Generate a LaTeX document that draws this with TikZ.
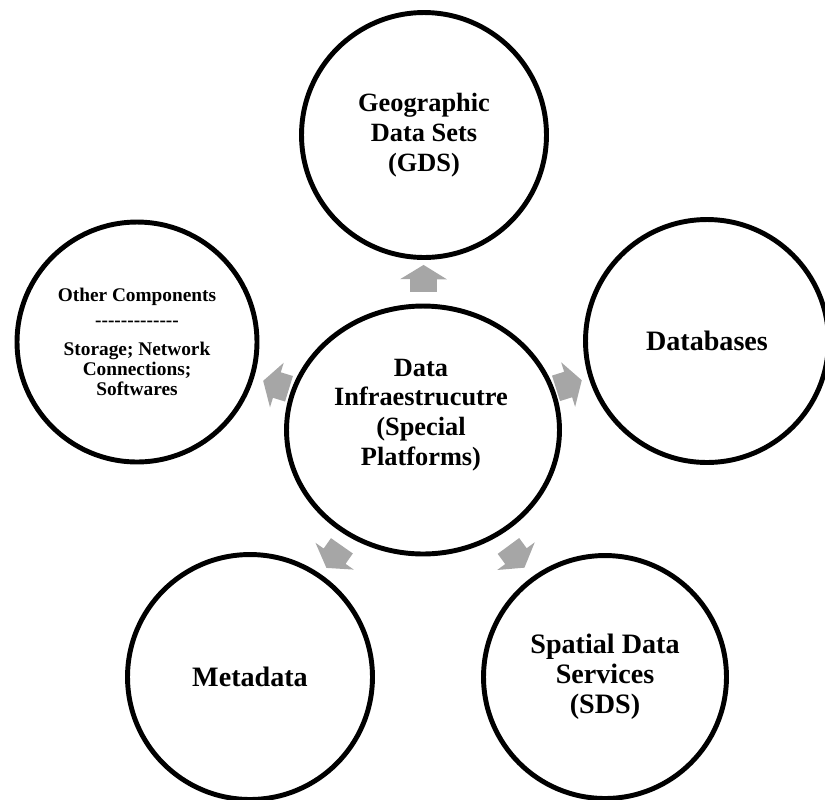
\documentclass[tikz,border=0pt]{standalone}
\usepackage{fontspec}
\setmainfont{Liberation Serif}
\usetikzlibrary{shapes.geometric,shapes.arrows}
\definecolor{arrowgray}{HTML}{A6A6A6}

\begin{document}
\begin{tikzpicture}[
    x=0.02cm, y=-0.02cm,
    font=\bfseries\fontsize{15}{17}\selectfont,
    part/.style = {shape=circle, draw=black, line width=2.8pt, align=center, inner sep=0pt, minimum size=4.9cm},
    hub/.style = {shape=ellipse, draw=black, line width=2.8pt, inner sep=0pt, minimum width=5.46cm, minimum height=4.96cm},
    words/.style = {align=center},
    big/.style = {font=\bfseries\fontsize{16}{17}\selectfont},
    flow/.style = {shape=single arrow, fill=arrowgray, inner xsep=0pt, inner ysep=0.26cm, minimum height=0.54cm, minimum width=0.92cm,
                   single arrow head extend=0.2cm, single arrow tip angle=117, sloped, allow upside down}
    ]
    \useasboundingbox (0,0) rectangle (825,799);
    \clip (0,0) rectangle (825,799);

    % Hub
    \node[hub]   (sdi hub)      at (423,430) {};
    \node[words] (sdi hub text) at (421,415) {Data\\Infraestrucutre\\(Special\\Platforms)};

    % Components around the hub
    \node[part]                             (sdi geo)  at (424,135) {Geographic\\Data Sets\\(GDS)};
    \node[part, big, minimum size=4.86cm]   (sdi db)   at (707,341) {Databases};
    \node[part, big, minimum size=4.86cm]   (sdi sds)  at (605,677) {Spatial Data\\Services\\(SDS)};
    \node[part, big]                        (sdi meta) at (250,677) {Metadata};
    \node[part, minimum size=4.8cm, font=\bfseries\fontsize{11}{11.5}\selectfont] (sdi other) at (137,342)
        {Other Components\\[2.8pt] -{}-{}-{}-{}-{}-{}-{}-{}-{}-{}-{}-{}-\\[4.5pt] Storage; Network\\Connections;\\Softwares};

    % Arrows from the hub
    \path (sdi hub.center) -- node[flow] (sdi to geo)   {} (sdi geo.center);
    \path (sdi hub.center) -- node[flow] (sdi to db)    {} (sdi db.center);
    \path (sdi hub.center) -- node[flow] (sdi to sds)   {} (sdi sds.center);
    \path (sdi hub.center) -- node[flow] (sdi to meta)  {} (sdi meta.center);
    \path (sdi hub.center) -- node[flow] (sdi to other) {} (sdi other.center);
\end{tikzpicture}
\end{document}
